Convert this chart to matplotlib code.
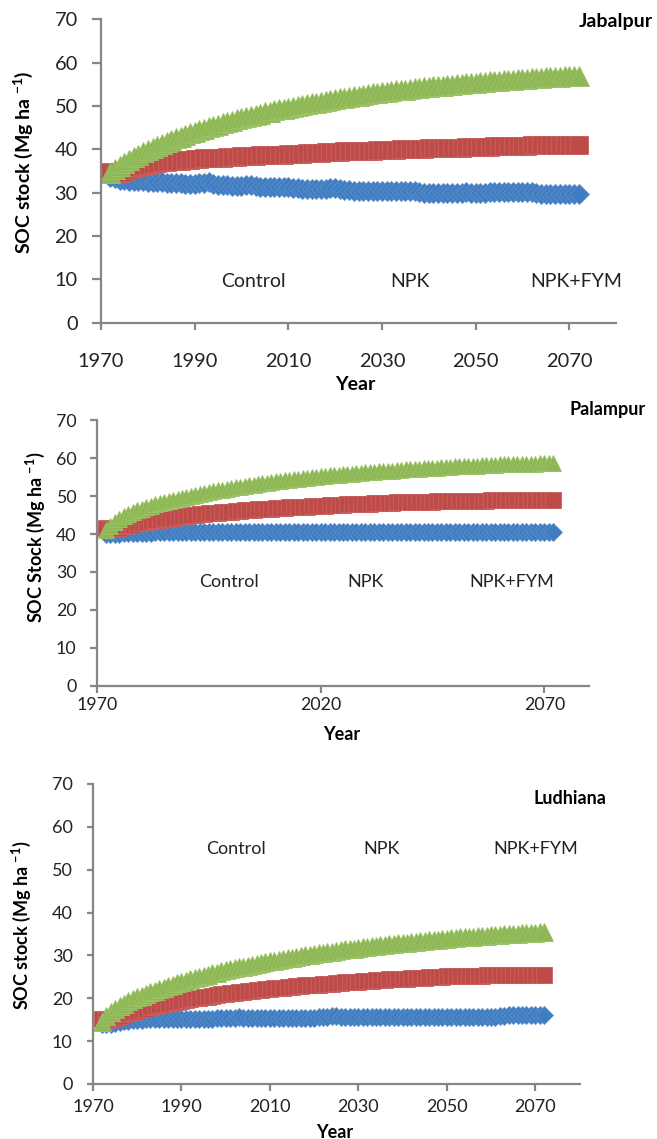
import matplotlib
matplotlib.use("Agg")
import matplotlib.pyplot as plt

plt.rcParams['font.family'] = ['Lato', 'DejaVu Sans']
plt.rcParams['mathtext.fontset'] = 'custom'
plt.rcParams['mathtext.rm'] = 'Lato'
plt.rcParams['mathtext.bf'] = 'Lato:bold'

years = list(range(1972, 2073))
treatments = ["Control", "NPK", "NPK+FYM"]

# Jabalpur
jab_control = [
    33.7, 33.3, 33.0, 32.9, 32.8, 32.7, 32.6, 32.6, 32.5, 32.5,
    32.4, 32.5, 32.3, 32.3, 32.2, 32.3, 32.1, 32.1, 32.0, 32.2,
    32.3, 32.4, 32.0, 31.8, 31.7, 31.7, 31.6, 31.6, 31.6, 31.7,
    31.8, 31.6, 31.4, 31.3, 31.3, 31.3, 31.3, 31.4, 31.3, 31.1,
    31.0, 30.9, 30.9, 30.9, 30.8, 30.8, 30.9, 31.0, 31.1, 30.8,
    30.7, 30.6, 30.4, 30.4, 30.4, 30.4, 30.5, 30.4, 30.4, 30.4,
    30.4, 30.4, 30.5, 30.5, 30.4, 30.3, 30.1, 30.0, 30.0, 30.0,
    30.0, 30.0, 30.0, 30.0, 30.0, 30.0, 30.1, 30.0, 30.0, 30.0,
    30.0, 30.1, 30.1, 30.2, 30.2, 30.2, 30.1, 30.2, 30.2, 30.2,
    30.1, 29.9, 29.8, 29.8, 29.8, 29.8, 29.8, 29.8, 29.8, 29.8,
    29.8]
jab_npk = [
    34.8, 34.6, 34.6, 34.8, 35.2, 35.6, 35.9, 36.2, 36.4, 36.6,
    36.8, 37.0, 37.1, 37.2, 37.3, 37.4, 37.5, 37.6, 37.7, 37.8,
    37.9, 37.9, 38.0, 38.1, 38.1, 38.2, 38.3, 38.3, 38.4, 38.4,
    38.5, 38.5, 38.6, 38.6, 38.7, 38.7, 38.8, 38.8, 38.9, 38.9,
    39.0, 39.0, 39.1, 39.1, 39.2, 39.2, 39.3, 39.3, 39.4, 39.4,
    39.5, 39.5, 39.6, 39.6, 39.6, 39.7, 39.7, 39.8, 39.8, 39.8,
    39.9, 39.9, 40.0, 40.0, 40.0, 40.1, 40.1, 40.1, 40.2, 40.2,
    40.3, 40.3, 40.3, 40.4, 40.4, 40.4, 40.5, 40.5, 40.5, 40.6,
    40.6, 40.6, 40.7, 40.7, 40.7, 40.7, 40.8, 40.8, 40.8, 40.8,
    40.9, 40.9, 40.9, 40.9, 41.0, 41.0, 41.0, 41.0, 41.0, 41.0,
    41.0]
jab_fym = [
    34.5, 35.4, 36.2, 36.9, 37.6, 38.2, 38.8, 39.3, 39.8, 40.3,
    40.8, 41.2, 41.7, 42.1, 42.5, 42.9, 43.3, 43.7, 44.1, 44.4,
    44.7, 45.1, 45.4, 45.7, 46.0, 46.3, 46.6, 46.9, 47.2, 47.5,
    47.7, 48.0, 48.2, 48.5, 48.7, 49.0, 49.2, 49.4, 49.6, 49.8,
    50.0, 50.2, 50.4, 50.6, 50.8, 51.0, 51.2, 51.4, 51.6, 51.8,
    51.9, 52.1, 52.3, 52.4, 52.6, 52.7, 52.9, 53.0, 53.2, 53.3,
    53.4, 53.6, 53.7, 53.8, 53.9, 54.1, 54.2, 54.3, 54.4, 54.5,
    54.6, 54.7, 54.8, 54.9, 55.0, 55.1, 55.2, 55.3, 55.4, 55.5,
    55.6, 55.7, 55.8, 55.8, 55.9, 56.0, 56.1, 56.2, 56.2, 56.3,
    56.4, 56.5, 56.5, 56.6, 56.7, 56.7, 56.8, 56.9, 56.9, 57.0,
    57.0]

# Palampur
pal_control = [
    40.0, 40.0, 40.1, 40.1, 40.2, 40.2, 40.2, 40.3, 40.3, 40.3,
    40.3, 40.4, 40.4, 40.4, 40.4, 40.4, 40.4, 40.4, 40.4, 40.4,
    40.4, 40.4, 40.5, 40.4, 40.4, 40.4, 40.4, 40.5, 40.4, 40.4,
    40.4, 40.4, 40.4, 40.5, 40.4, 40.4, 40.4, 40.4, 40.4, 40.5,
    40.4, 40.4, 40.4, 40.4, 40.4, 40.5, 40.4, 40.4, 40.4, 40.4,
    40.4, 40.4, 40.5, 40.4, 40.4, 40.4, 40.4, 40.4, 40.4, 40.5,
    40.4, 40.4, 40.4, 40.4, 40.4, 40.4, 40.5, 40.4, 40.4, 40.4,
    40.4, 40.4, 40.4, 40.5, 40.4, 40.4, 40.4, 40.4, 40.4, 40.4,
    40.5, 40.4, 40.4, 40.4, 40.4, 40.4, 40.4, 40.5, 40.4, 40.4,
    40.4, 40.4, 40.4, 40.4, 40.5, 40.4, 40.4, 40.4, 40.4, 40.4,
    40.4]
pal_npk = [
    41.5, 41.3, 41.5, 41.7, 42.0, 42.3, 42.5, 42.8, 43.0, 43.2,
    43.4, 43.6, 43.8, 44.0, 44.1, 44.3, 44.5, 44.6, 44.8, 44.9,
    45.0, 45.2, 45.3, 45.4, 45.5, 45.6, 45.7, 45.8, 45.9, 46.0,
    46.1, 46.2, 46.3, 46.4, 46.5, 46.5, 46.6, 46.7, 46.8, 46.8,
    46.9, 47.0, 47.0, 47.1, 47.2, 47.2, 47.3, 47.4, 47.5, 47.5,
    47.6, 47.6, 47.7, 47.7, 47.8, 47.8, 47.9, 47.9, 48.0, 48.0,
    48.1, 48.1, 48.1, 48.2, 48.2, 48.3, 48.3, 48.3, 48.4, 48.4,
    48.4, 48.5, 48.5, 48.5, 48.6, 48.6, 48.6, 48.7, 48.7, 48.7,
    48.7, 48.8, 48.8, 48.8, 48.8, 48.8, 48.9, 48.9, 48.9, 48.9,
    48.9, 48.9, 49.0, 49.0, 49.0, 49.0, 49.0, 49.0, 49.0, 49.0,
    49.0]
pal_fym = [
    41.0, 42.2, 43.2, 44.0, 44.7, 45.3, 45.8, 46.3, 46.7, 47.1,
    47.5, 47.9, 48.2, 48.5, 48.8, 49.0, 49.3, 49.5, 49.8, 50.0,
    50.3, 50.6, 50.8, 51.0, 51.3, 51.5, 51.7, 51.9, 52.1, 52.3,
    52.5, 52.7, 52.9, 53.0, 53.2, 53.4, 53.5, 53.7, 53.9, 54.0,
    54.2, 54.3, 54.4, 54.6, 54.7, 54.8, 55.0, 55.1, 55.2, 55.3,
    55.4, 55.5, 55.6, 55.7, 55.8, 55.9, 56.0, 56.1, 56.2, 56.3,
    56.4, 56.5, 56.6, 56.7, 56.7, 56.8, 56.9, 57.0, 57.1, 57.2,
    57.2, 57.3, 57.4, 57.4, 57.5, 57.6, 57.6, 57.7, 57.8, 57.8,
    57.9, 57.9, 58.0, 58.0, 58.1, 58.1, 58.2, 58.2, 58.3, 58.3,
    58.3, 58.4, 58.4, 58.4, 58.5, 58.5, 58.5, 58.6, 58.6, 58.6,
    58.6]

# Ludhiana
lud_control = [
    14.0, 13.9, 14.1, 14.3, 14.5, 14.6, 14.8, 14.9, 15.0, 15.0,
    15.1, 15.1, 15.1, 15.1, 15.2, 15.2, 15.2, 15.2, 15.2, 15.2,
    15.2, 15.2, 15.2, 15.2, 15.2, 15.2, 15.3, 15.3, 15.3, 15.4,
    15.5, 15.6, 15.5, 15.5, 15.5, 15.5, 15.5, 15.5, 15.5, 15.5,
    15.5, 15.5, 15.5, 15.5, 15.5, 15.5, 15.5, 15.5, 15.5, 15.6,
    15.6, 15.7, 15.8, 15.8, 15.7, 15.7, 15.7, 15.7, 15.7, 15.7,
    15.7, 15.7, 15.7, 15.7, 15.7, 15.7, 15.7, 15.7, 15.7, 15.7,
    15.7, 15.7, 15.7, 15.7, 15.7, 15.7, 15.7, 15.7, 15.7, 15.7,
    15.7, 15.7, 15.7, 15.7, 15.7, 15.7, 15.7, 15.7, 15.7, 15.7,
    15.8, 15.9, 16.0, 16.0, 16.0, 16.0, 16.0, 16.0, 16.0, 16.0,
    16.0]
lud_npk = [
    15.2, 15.0, 15.2, 15.5, 15.9, 16.3, 16.6, 16.9, 17.1, 17.4,
    17.6, 17.9, 18.1, 18.4, 18.6, 18.8, 19.0, 19.2, 19.4, 19.6,
    19.8, 20.0, 20.1, 20.3, 20.4, 20.6, 20.7, 20.9, 21.0, 21.2,
    21.3, 21.4, 21.5, 21.7, 21.8, 21.9, 22.0, 22.1, 22.2, 22.3,
    22.4, 22.5, 22.6, 22.7, 22.8, 22.9, 23.0, 23.0, 23.1, 23.2,
    23.3, 23.4, 23.4, 23.5, 23.6, 23.7, 23.7, 23.8, 23.9, 24.0,
    24.0, 24.1, 24.2, 24.2, 24.3, 24.4, 24.4, 24.5, 24.5, 24.6,
    24.7, 24.7, 24.8, 24.8, 24.9, 24.9, 25.0, 25.0, 25.1, 25.1,
    25.1, 25.2, 25.2, 25.2, 25.3, 25.3, 25.3, 25.4, 25.4, 25.4,
    25.4, 25.4, 25.5, 25.5, 25.5, 25.5, 25.5, 25.5, 25.5, 25.5,
    25.5]
lud_fym = [
    14.5, 15.8, 16.7, 17.5, 18.1, 18.7, 19.3, 19.8, 20.2, 20.6,
    21.0, 21.4, 21.8, 22.1, 22.5, 22.9, 23.2, 23.5, 23.8, 24.1,
    24.4, 24.7, 25.0, 25.3, 25.5, 25.8, 26.0, 26.3, 26.5, 26.8,
    27.0, 27.2, 27.4, 27.6, 27.8, 28.0, 28.2, 28.4, 28.6, 28.8,
    29.0, 29.2, 29.4, 29.5, 29.7, 29.9, 30.0, 30.2, 30.3, 30.5,
    30.6, 30.8, 30.9, 31.1, 31.2, 31.4, 31.5, 31.6, 31.8, 31.9,
    32.0, 32.1, 32.3, 32.4, 32.5, 32.6, 32.7, 32.8, 32.9, 33.0,
    33.1, 33.2, 33.3, 33.4, 33.5, 33.6, 33.7, 33.8, 33.9, 34.0,
    34.1, 34.2, 34.2, 34.3, 34.4, 34.5, 34.5, 34.6, 34.7, 34.8,
    34.8, 34.9, 35.0, 35.0, 35.1, 35.2, 35.2, 35.3, 35.3, 35.4,
    35.4]

colors = ["#407DC0", "#BE4B48", "#8DB855"]
edges = ["#5A8FCC", "#C8605D", "#9CC266"]
markers = ["D", "s", "^"]
msizes = [9, 11, 12]

W, H = 657, 1139
fig = plt.figure(figsize=(W / 100, H / 100), dpi=100)


def make_axes(left, right, top, bottom):
    return fig.add_axes([left / W, 1 - bottom / H, (right - left) / W, (bottom - top) / H])


panels = [
    dict(box=(101, 616, 19.3, 322.7), series=[jab_control, jab_npk, jab_fym],
         xticks=[1970, 1990, 2010, 2030, 2050, 2070], site="Jabalpur",
         site_pos=(1.072, 0.992, "right"), ylabel=r"SOC stock (Mg ha $^{\mathbf{-1}}$)",
         ylab_pos=(-0.152, 0.53), xlab_pos=(0.493, -0.205),
         ann_x=[2002.6, 2036.0, 2071.6], ann_y=9.4, tick_fs=14.4, fs=14,
         xpad=17, ylen=6.7, mscale=1.18),
    dict(box=(97, 589, 420, 686), series=[pal_control, pal_npk, pal_fym],
         xticks=[1970, 2020, 2070], site="Palampur",
         site_pos=(1.116, 1.038, "right"), ylabel=r"SOC Stock (Mg ha $^{\mathbf{-1}}$)",
         ylab_pos=(-0.125, 0.56), xlab_pos=(0.498, -0.184),
         ann_x=[1999.6, 2030.0, 2062.8], ann_y=27.4, tick_fs=12.8, fs=13,
         xpad=3, ylen=4.8, mscale=1.0),
    dict(box=(93, 579.5, 784, 1084), series=[lud_control, lud_npk, lud_fym],
         xticks=[1970, 1990, 2010, 2030, 2050, 2070], site="Ludhiana",
         site_pos=(0.98, 0.95, "center"), ylabel=r"SOC stock (Mg ha $^{\mathbf{-1}}$)",
         ylab_pos=(-0.148, 0.53), xlab_pos=(0.497, -0.16),
         ann_x=[2002.3, 2035.2, 2070.1], ann_y=54.8, tick_fs=13.0, fs=13,
         xpad=6, ylen=4.6, mscale=1.05),
]

for p in panels:
    ax = make_axes(*p["box"])
    for vals, c, ec, m, ms in zip(p["series"], colors, edges, markers, msizes):
        ax.plot(years, vals, linestyle="none", marker=m, markersize=ms * p["mscale"],
                color=c, markeredgecolor=ec, markeredgewidth=0.6, clip_on=False)
    ax.set_xlim(1970, 2080)
    ax.set_ylim(0, 70)
    ax.set_xticks(p["xticks"])
    ax.set_yticks(range(0, 71, 10))
    for side in ["top", "right"]:
        ax.spines[side].set_visible(False)
    for side in ["left", "bottom"]:
        ax.spines[side].set_color("#868686")
        ax.spines[side].set_linewidth(1.6)
    ax.tick_params(axis="y", direction="out", length=p["ylen"], width=1.6, color="#868686",
                   pad=10, labelsize=p["tick_fs"], labelcolor="#222222")
    ax.tick_params(axis="x", direction="out", length=5, width=1.6, color="#868686",
                   pad=p["xpad"], labelsize=p["tick_fs"], labelcolor="#222222")
    ax.set_ylabel(p["ylabel"], fontsize=p["fs"], fontweight="bold", va="center")
    ax.yaxis.set_label_coords(*p["ylab_pos"])
    ax.set_xlabel("Year", fontsize=p["fs"], fontweight="bold", va="center")
    ax.xaxis.set_label_coords(*p["xlab_pos"])
    sx, sy, sha = p["site_pos"]
    ax.text(sx, sy, p["site"], transform=ax.transAxes, ha=sha, va="center",
            fontsize=p["fs"], fontweight="bold", clip_on=False)
    for name, x in zip(treatments, p["ann_x"]):
        ax.text(x, p["ann_y"], name, ha="center", va="center", fontsize=p["fs"],
                color="#222222")

fig.savefig("out.png", dpi=100)
